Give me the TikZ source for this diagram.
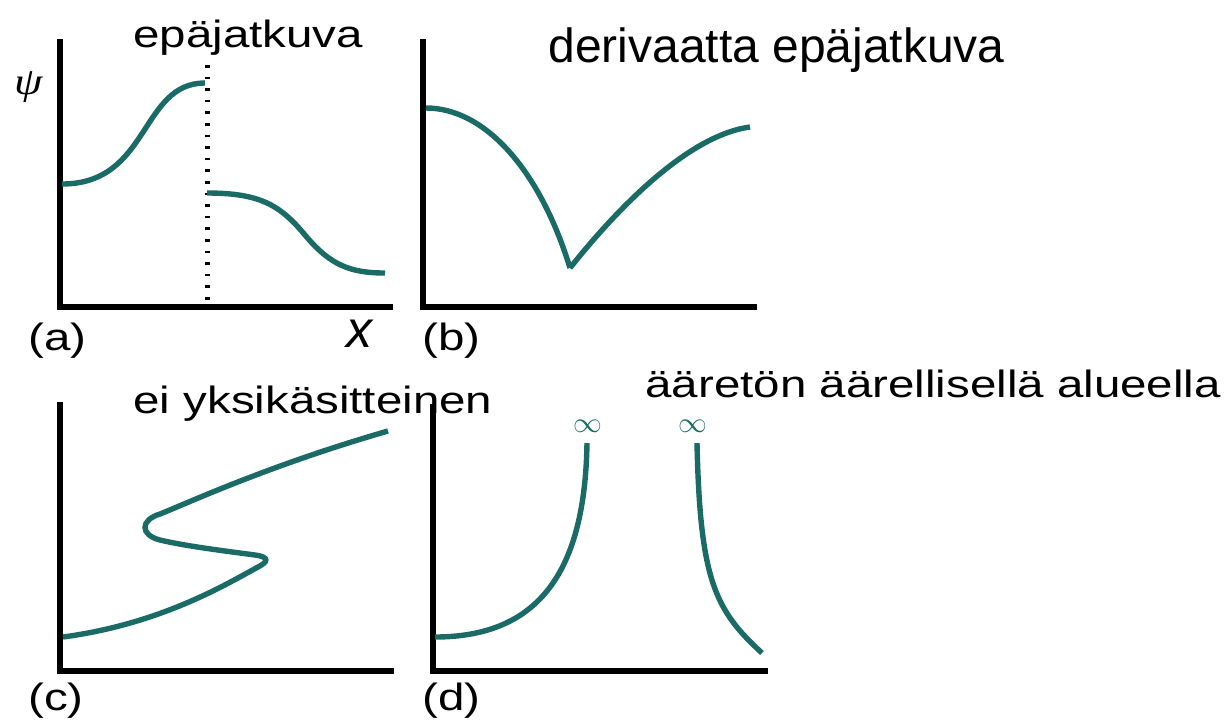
\documentclass[tikz,border=0pt]{standalone}
\usepackage{fontspec}
\setmainfont{Liberation Sans}
\newfontfamily\widefont{Liberation Sans}[FakeStretch=1.25]
\newfontfamily\greekfont{Liberation Serif}[FakeStretch=1.2]
\definecolor{curveteal}{RGB}{26,107,102}
\begin{document}
\begin{tikzpicture}[x=0.5pt,y=-0.5pt,
  axis/.style={line width=3pt,line cap=rect,line join=miter},
  wave/.style={line width=2.7pt,curveteal},
  cut/.style={line width=2.5pt,dash pattern=on 1.3pt off 4.5pt},
  title/.style={anchor=base west,inner sep=0pt,font=\widefont\fontsize{19pt}{22pt}\selectfont},
  bigtitle/.style={anchor=base west,inner sep=0pt,font=\fontsize{24pt}{28pt}\selectfont},
  tag/.style={anchor=base west,inner sep=0pt,font=\widefont\fontsize{19pt}{22pt}\selectfont},
  inf/.style={inner sep=0pt,text=curveteal,font=\fontsize{13.5pt}{15pt}\selectfont}]
\useasboundingbox (0,0) rectangle (1232,725);
% panel a
\draw[axis] (60,42) -- (60,307) -- (390,307);
\draw[cut] (207,65) -- (207,305);
\draw[wave] (62,184) .. controls (150,184) and (140,83) .. (205,83);
\draw[wave] (207,193) .. controls (260,193) and (280,205) .. (305,235) .. controls (330,265) and (350,273) .. (385,273);
\node[title] (ta) at (133,47) {epäjatkuva};
\node[inner sep=0pt,font=\greekfont\itshape\fontsize{19pt}{21pt}\selectfont] (psi) at (29,87) {ψ};
\node[anchor=base west,inner sep=0pt,font=\itshape\fontsize{26pt}{28pt}\selectfont] (xl) at (346,347) {x};
\node[tag] (la) at (28,350) {(a)};
% panel b
\draw[axis] (423,42) -- (423,307) -- (754,307);
\draw[wave] (426,108) .. controls (485,108) and (540,170) .. (570,268);
\draw[wave] (570,268) .. controls (620,205) and (690,135) .. (750,127);
\node[bigtitle] (tb) at (548,62) {derivaatta epäjatkuva};
\node[tag] (lb) at (422,350) {(b)};
% panel c
\draw[axis] (60,405) -- (60,671) -- (391,671);
\draw[wave] (63,637) .. controls (160,624) and (225,585) .. (258,567)
  .. controls (268,562) and (270,557) .. (255,555)
  .. controls (225,551) and (185,546) .. (160,540)
  .. controls (140,535) and (140,520) .. (160,514)
  .. controls (190,502) and (270,465) .. (388,431);
\node[title] (tc) at (133,413) {ei yksikäsitteinen};
\node[tag] (lc) at (28,710) {(c)};
% panel d
\draw[axis] (433,407) -- (433,671) -- (765,671);
\draw[wave] (435,637) .. controls (540,637) and (585,570) .. (587,443);
\draw[wave] (697,443) .. controls (700,580) and (715,610) .. (762,653);
\node[inf] (i1) at (588,426) {$\infty$};
\node[inf] (i2) at (693,426) {$\infty$};
\node[title] (td) at (645,397) {ääretön äärellisellä alueella};
\node[tag] (ld) at (422,710) {(d)};
\end{tikzpicture}
\end{document}
